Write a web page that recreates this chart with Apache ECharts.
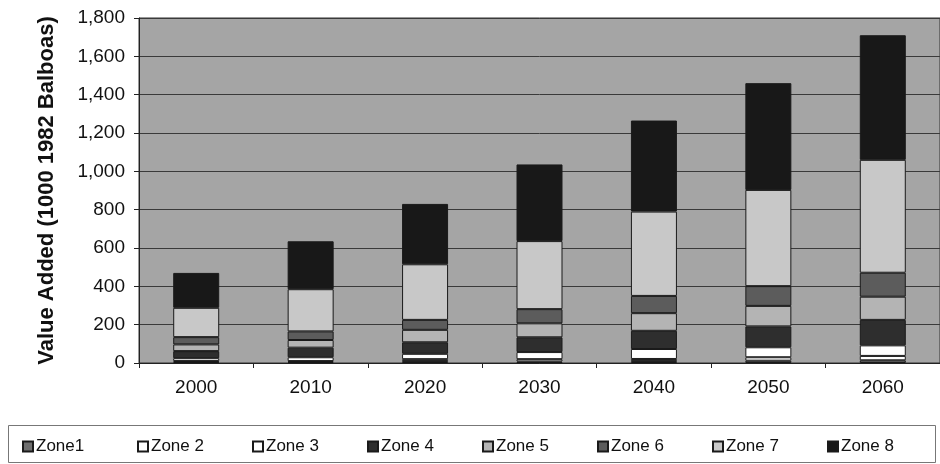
<!DOCTYPE html>
<html>
<head>
<meta charset="utf-8">
<script src="https://cdn.jsdelivr.net/npm/echarts@6/dist/echarts.min.js"></script>
<style>html,body{margin:0;padding:0;background:#fff;}#c{width:940px;height:464px;}</style>
</head>
<body>
<div id="c"></div>
<script>
const years = ['2000','2010','2020','2030','2040','2050','2060'];
const zone1 = [5, 5, 10, 8, 10, 12, 14];
const zone2 = [5, 5, 10, 12, 11, 18, 23];
const zone3 = [15, 20, 28, 37, 52, 52, 55];
const zone4 = [37, 50, 60, 77, 95, 109, 133];
const zone5 = [35, 40, 65, 73, 92, 107, 121];
const zone6 = [38, 45, 52, 74, 90, 103, 125];
const zone7 = [153, 220, 290, 355, 440, 502, 589];
const zone8 = [182, 250, 315, 400, 475, 557, 650];
const seriesNames = ['Zone1','Zone 2','Zone 3','Zone 4','Zone 5','Zone 6','Zone 7','Zone 8'];
const yTicks = [0,200,400,600,800,1000,1200,1400,1600,1800];

const seriesData = [zone1, zone2, zone3, zone4, zone5, zone6, zone7, zone8];
const colors = ['#6e6e6e','#ffffff','#ffffff','#2e2e2e','#b4b4b4','#5c5c5c','#c8c8c8','#181818'];

const chart = echarts.init(document.getElementById('c'));
const legends = seriesNames.map((n, i) => ({
  data: [n],
  left: 17 + i * 115,
  top: 433,
  itemWidth: 10,
  itemHeight: 10,
  itemGap: 4,
  icon: 'rect',
  textStyle: {fontFamily: 'Liberation Sans', fontSize: 17, color: '#111', padding: [0,0,0,-2]}
}));
chart.setOption({
  animation: false,
  backgroundColor: '#ffffff',
  grid: {left: 139, right: -9, top: 18, bottom: 101, show: true, backgroundColor: '#a5a5a5', borderColor: '#333', borderWidth: 1},
  graphic: [{type: 'rect', shape: {x: 8.5, y: 425.5, width: 927, height: 37}, style: {fill: '#fff', stroke: '#777', lineWidth: 1}, z: -1}],
  legend: legends,
  xAxis: {
    type: 'category', data: years,
    axisLine: {lineStyle: {color: '#222', width: 1}},
    axisTick: {show: true, alignWithLabel: false, length: 5, lineStyle: {color: '#222'}},
    axisLabel: {fontFamily: 'Liberation Sans', fontSize: 19, color: '#111', margin: 15}
  },
  yAxis: {
    type: 'value', min: 0, max: 1800, interval: 200,
    name: 'Value Added (1000 1982 Balboas)', nameLocation: 'middle', nameGap: 81, nameRotate: 90,
    nameTextStyle: {fontFamily: 'Liberation Sans', fontSize: 22, fontWeight: 'bold', color: '#111'},
    axisLine: {show: true, lineStyle: {color: '#222'}},
    axisTick: {show: true, length: 5, lineStyle: {color: '#222'}},
    axisLabel: {fontFamily: 'Liberation Sans', fontSize: 19, color: '#111', margin: 14,
      formatter: v => yTicks.includes(v) ? v.toLocaleString('en-US') : ''},
    splitLine: {show: true, lineStyle: {color: '#3a3a3a', width: 1}}
  },
  series: seriesNames.map((n, i) => ({
    name: n, type: 'bar', stack: 'total', data: seriesData[i],
    barWidth: 46,
    itemStyle: {color: colors[i], borderColor: '#1a1a1a', borderWidth: 1}
  }))
});
</script>
</body>
</html>
